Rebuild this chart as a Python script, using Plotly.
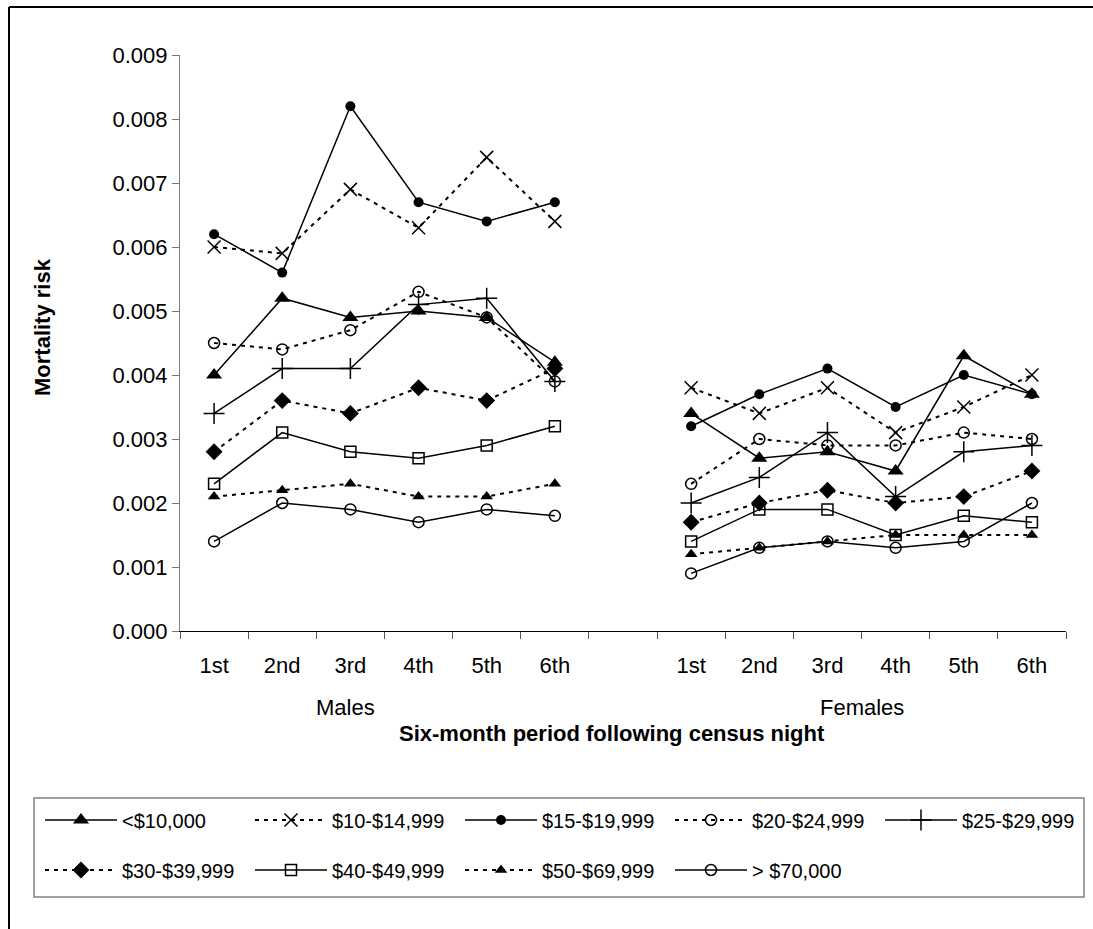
import plotly.graph_objects as go

periods = ["1st", "2nd", "3rd", "4th", "5th", "6th"]
groups = ["Males", "Females"]
series_names = ["<$10,000", "$10-$14,999", "$15-$19,999", "$20-$24,999", "$25-$29,999",
                "$30-$39,999", "$40-$49,999", "$50-$69,999", "> $70,000"]

males_lt10k = [0.0040, 0.0052, 0.0049, 0.0050, 0.0049, 0.0042]
males_10_15k = [0.0060, 0.0059, 0.0069, 0.0063, 0.0074, 0.0064]
males_15_20k = [0.0062, 0.0056, 0.0082, 0.0067, 0.0064, 0.0067]
males_20_25k = [0.0045, 0.0044, 0.0047, 0.0053, 0.0049, 0.0039]
males_25_30k = [0.0034, 0.0041, 0.0041, 0.0051, 0.0052, 0.0039]
males_30_40k = [0.0028, 0.0036, 0.0034, 0.0038, 0.0036, 0.0041]
males_40_50k = [0.0023, 0.0031, 0.0028, 0.0027, 0.0029, 0.0032]
males_50_70k = [0.0021, 0.0022, 0.0023, 0.0021, 0.0021, 0.0023]
males_gt70k = [0.0014, 0.0020, 0.0019, 0.0017, 0.0019, 0.0018]

females_lt10k = [0.0034, 0.0027, 0.0028, 0.0025, 0.0043, 0.0037]
females_10_15k = [0.0038, 0.0034, 0.0038, 0.0031, 0.0035, 0.0040]
females_15_20k = [0.0032, 0.0037, 0.0041, 0.0035, 0.0040, 0.0037]
females_20_25k = [0.0023, 0.0030, 0.0029, 0.0029, 0.0031, 0.0030]
females_25_30k = [0.0020, 0.0024, 0.0031, 0.0021, 0.0028, 0.0029]
females_30_40k = [0.0017, 0.0020, 0.0022, 0.0020, 0.0021, 0.0025]
females_40_50k = [0.0014, 0.0019, 0.0019, 0.0015, 0.0018, 0.0017]
females_50_70k = [0.0012, 0.0013, 0.0014, 0.0015, 0.0015, 0.0015]
females_gt70k = [0.0009, 0.0013, 0.0014, 0.0013, 0.0014, 0.0020]

males = [males_lt10k, males_10_15k, males_15_20k, males_20_25k, males_25_30k,
         males_30_40k, males_40_50k, males_50_70k, males_gt70k]
females = [females_lt10k, females_10_15k, females_15_20k, females_20_25k, females_25_30k,
           females_30_40k, females_40_50k, females_50_70k, females_gt70k]

FONT = "Liberation Sans, Arial, sans-serif"
DASH = "4px,5px"
# style per series: (symbol, size, dashed, filled)
styles = [
    ("triangle-up", 14, False, True),
    ("x-thin-open", 13, True, False),
    ("circle", 10, False, True),
    ("circle-open", 11, True, False),
    ("cross-thin-open", 15, False, False),
    ("diamond", 13, True, True),
    ("square-open", 11, False, False),
    ("triangle-up", 11, True, True),
    ("circle-open", 11, False, False),
]

# category positions: males, an empty slot, females
n = len(periods)
x_pos = list(range(n)) + [n] + list(range(n + 1, 2 * n + 1))
tick_text = periods + [""] + periods

fig = go.Figure()
for i, name in enumerate(series_names):
    sym, size, dashed, filled = styles[i]
    y = males[i] + [None] + females[i]
    marker = dict(symbol=sym, size=size, color="black",
                  line=dict(color="black", width=0 if filled else 1.5))
    fig.add_trace(go.Scatter(
        x=x_pos, y=y, name=name, mode="lines+markers",
        connectgaps=False,
        line=dict(color="black", width=2 if dashed else 1.5, dash=DASH if dashed else "solid"),
        marker=marker,
        legend="legend" if i < 5 else "legend2",
    ))

W, H = 1093, 929
L, R, T, B = 180, 27, 55, 298
pw, ph = W - L - R, H - T - B

def px_x(px):
    return (px - L) / pw

def px_y(py):
    return (H - B - py) / ph

legend_common = dict(
    orientation="h", xanchor="left", yanchor="middle",
    entrywidthmode="pixels", entrywidth=123, itemwidth=72,
    font=dict(size=20), bgcolor="rgba(0,0,0,0)", borderwidth=0,
)

fig.update_layout(
    width=W, height=H, autosize=False,
    margin=dict(l=L, r=R, t=T, b=B),
    paper_bgcolor="white", plot_bgcolor="white",
    font=dict(family=FONT, size=22, color="black"),
    xaxis=dict(
        range=[-0.5, 2 * n + 0.5], tickmode="array", tickvals=x_pos, ticktext=tick_text,
        ticks="", showline=True, linecolor="black", linewidth=1.2, showgrid=False,
        zeroline=False, tickfont=dict(size=22), ticklabelstandoff=14,
        minor=dict(ticks="outside", tick0=-0.5, dtick=1, ticklen=7, tickcolor="#555555",
                   tickwidth=1, showgrid=False),
    ),
    yaxis=dict(
        range=[0, 0.009], dtick=0.001, tick0=0, tickformat=".3f",
        ticks="outside", ticklen=7, tickcolor="#777777", showline=True,
        linecolor="#808080", linewidth=1.2, showgrid=False, zeroline=False,
        tickfont=dict(size=22),
    ),
    legend=dict(legend_common, x=px_x(40), y=px_y(820)),
    legend2=dict(legend_common, x=px_x(40), y=px_y(870)),
    showlegend=True,
)

annotations = [
    dict(text=groups[0], x=1.93, xref="x", y=px_y(707), yref="paper",
         showarrow=False, font=dict(size=22), xanchor="center", yanchor="middle"),
    dict(text=groups[1], x=(n + 1 + 2 * n) / 2, xref="x", y=px_y(707), yref="paper",
         showarrow=False, font=dict(size=22), xanchor="center", yanchor="middle"),
    dict(text="<b>Six-month period following census night</b>", x=px_x(612), xref="paper",
         y=px_y(733), yref="paper", showarrow=False, font=dict(size=22),
         xanchor="center", yanchor="middle"),
    dict(text="<b>Mortality risk</b>", x=px_x(42), xref="paper", y=px_y(327), yref="paper",
         showarrow=False, font=dict(size=22), textangle=-90,
         xanchor="center", yanchor="middle"),
]
fig.update_layout(annotations=annotations)

shapes = [
    # outer frame (top and left edges)
    dict(type="line", xref="paper", yref="paper", x0=px_x(9), x1=px_x(W + 5),
         y0=px_y(7), y1=px_y(7), line=dict(color="black", width=2)),
    dict(type="line", xref="paper", yref="paper", x0=px_x(9), x1=px_x(9),
         y0=px_y(7), y1=px_y(H + 5), line=dict(color="black", width=2)),
    # legend box
    dict(type="rect", xref="paper", yref="paper", x0=px_x(34), x1=px_x(1084),
         y0=px_y(897), y1=px_y(798), line=dict(color="#808080", width=1.5)),
]
fig.update_layout(shapes=shapes)

fig.write_html(
    "out.html",
    config={"displayModeBar": False},
    post_script="document.body.style.margin='0';document.body.style.overflow='hidden';",
)
